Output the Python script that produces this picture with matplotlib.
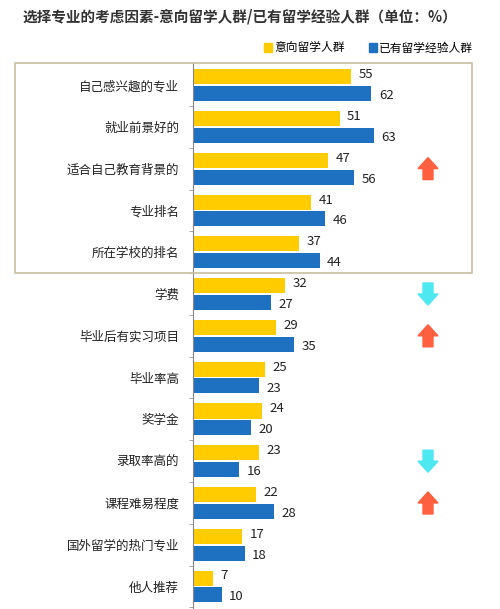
import matplotlib
matplotlib.use("Agg")
import matplotlib.pyplot as plt
from matplotlib.patches import Rectangle, Polygon
import numpy as np

plt.rcParams['font.family'] = ['Noto Sans CJK SC', 'DejaVu Sans']

categories = ["自己感兴趣的专业", "就业前景好的", "适合自己教育背景的", "专业排名", "所在学校的排名",
              "学费", "毕业后有实习项目", "毕业率高", "奖学金", "录取率高的", "课程难易程度",
              "国外留学的热门专业", "他人推荐"]
intent = [55, 51, 47, 41, 37, 32, 29, 25, 24, 23, 22, 17, 7]
experienced = [62, 63, 56, 46, 44, 27, 35, 23, 20, 16, 28, 18, 10]
series_names = ["意向留学人群", "已有留学经验人群"]
arrows = {2: "up", 5: "down", 6: "up", 9: "down", 10: "up"}

YEL = "#FFCC00"; BLU = "#1E70C1"
W, H = 500, 609
fig = plt.figure(figsize=(W/100, H/100), dpi=100)
ax = fig.add_axes([193/W, 0, 279/W, (609-63)/H])
y = np.arange(len(categories))
ax.barh(y-0.2, intent, height=0.36, color=YEL)
ax.barh(y+0.2, experienced, height=0.36, color=BLU)
for i in y:
    ax.text(intent[i]+2.6, i-0.25, str(intent[i]), va='center', ha='left', fontsize=9.5, color='#222')
    ax.text(experienced[i]+2.6, i+0.25, str(experienced[i]), va='center', ha='left', fontsize=9.5, color='#222')
ax.set_xlim(0, 97)
ax.set_ylim(12.54, -0.53)
ax.set_xticks([])
ax.set_yticks(y)
ax.set_yticklabels(categories, fontsize=9, color='#222')
ax.tick_params(axis='y', length=0, pad=10)
ax.set_yticks(np.arange(len(categories)) + 0.5, minor=True)
ax.tick_params(axis='y', which='minor', length=3, color='#999')
for s in ['top', 'right', 'bottom']:
    ax.spines[s].set_visible(False)
ax.spines['left'].set_color('#888')

ov = fig.add_axes([0, 0, 1, 1], facecolor='none')
ov.set_xlim(0, W); ov.set_ylim(H, 0); ov.axis('off')
ov.add_patch(Rectangle((15, 63), 457, 210, fill=False, edgecolor='#C8BFA0', lw=1.2))
cy = [85 + 41.8*i for i in range(len(categories))]
for i, d in arrows.items():
    cx = 428; c = cy[i]
    if d == "up":
        pts = [(cx, c-11), (cx+10, c), (cx+5, c), (cx+5, c+11), (cx-5, c+11), (cx-5, c), (cx-10, c)]
        col = "#FF6040"
    else:
        pts = [(cx, c+11), (cx+10, c), (cx+5, c), (cx+5, c-11), (cx-5, c-11), (cx-5, c), (cx-10, c)]
        col = "#4DE8F0"
    ov.add_patch(Polygon(pts, closed=True, color=col))

fig.text(240/W, 1-17/H, "选择专业的考虑因素-意向留学人群/已有留学经验人群（单位：%）", ha='center', va='center',
         fontsize=10.5, fontweight='bold', color='#333')
ov.add_patch(Rectangle((264, 43), 8, 9, color=YEL))
ov.text(274, 48, series_names[0], va='center', fontsize=8.5)
ov.add_patch(Rectangle((369, 43), 8, 9, color=BLU))
ov.text(379, 48, series_names[1], va='center', fontsize=8.5)

fig.savefig("out.png", dpi=100)
